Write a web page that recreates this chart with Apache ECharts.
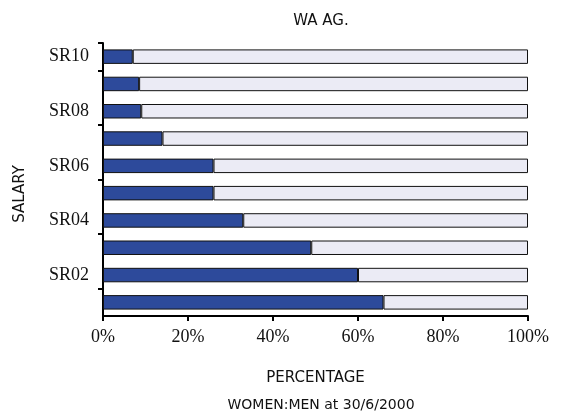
<!DOCTYPE html>
<html>
<head>
<meta charset="utf-8">
<script src="https://cdn.jsdelivr.net/npm/echarts@6/dist/echarts.min.js"></script>
<style>
  html, body { margin: 0; padding: 0; background: #fff; }
  #chart { width: 566px; height: 412px; }
</style>
</head>
<body>
<div id="chart"></div>
<script>
// salary ranges, bottom to top
var categories = ['SR01', 'SR02', 'SR03', 'SR04', 'SR05', 'SR06', 'SR07', 'SR08', 'SR09', 'SR10'];
// share of women in each range (%)
var women = [66, 60, 49, 33, 26, 26, 14, 9, 8.5, 7];
// share of men (%)
var men = [34, 40, 51, 67, 74, 74, 86, 91, 91.5, 93];
var xTicks = [0, 20, 40, 60, 80, 100];

var sans = '"DejaVu Sans", sans-serif';
var serif = '"Liberation Serif", serif';

var chart = echarts.init(document.getElementById('chart'), null, { renderer: 'canvas' });
chart.setOption({
  animation: false,
  backgroundColor: '#fff',
  title: [{
    text: 'WA AG.',
    left: 316,
    textAlign: 'center',
    top: 9,
    textStyle: { fontFamily: sans, fontSize: 15, fontWeight: 'normal', color: '#111' }
  }, {
    text: 'WOMEN:MEN at 30/6/2000',
    left: 316,
    textAlign: 'center',
    top: 393,
    textStyle: { fontFamily: sans, fontSize: 14, fontWeight: 'normal', color: '#111' }
  }],
  // y axis title sits a bit below the middle in the original
  graphic: [{
    type: 'text',
    x: 20,
    y: 194,
    rotation: Math.PI / 2,
    style: {
      text: 'SALARY',
      align: 'center',
      verticalAlign: 'middle',
      fontFamily: sans,
      fontSize: 15,
      fill: '#111'
    }
  }],
  grid: { left: 103, right: 38, top: 43, bottom: 96 },
  xAxis: {
    type: 'value',
    min: xTicks[0],
    max: xTicks[xTicks.length - 1],
    interval: 20,
    name: 'PERCENTAGE',
    nameLocation: 'middle',
    nameGap: 55,
    nameTextStyle: { fontFamily: sans, fontSize: 15, color: '#111' },
    axisLine: { show: true, lineStyle: { color: '#000', width: 2 } },
    axisTick: { show: true, length: 5, lineStyle: { color: '#000', width: 2 } },
    axisLabel: {
      formatter: '{value}%',
      margin: 12,
      fontFamily: serif,
      fontSize: 18,
      color: '#111'
    },
    splitLine: { show: false }
  },
  yAxis: {
    type: 'category',
    data: categories,
    axisLine: { show: true, lineStyle: { color: '#000', width: 2 } },
    axisTick: { show: true, length: 5, alignWithLabel: false, lineStyle: { color: '#000', width: 2 } },
    axisLabel: {
      interval: function (index) { return index % 2 === 1; },
      margin: 14,
      fontFamily: serif,
      fontSize: 18,
      color: '#111'
    }
  },
  series: [{
    name: 'Women',
    type: 'bar',
    stack: 'total',
    data: women,
    barWidth: '53%',
    itemStyle: { color: '#2d4a9b', borderColor: '#111', borderWidth: 1 }
  }, {
    name: 'Men',
    type: 'bar',
    stack: 'total',
    data: men,
    barWidth: '53%',
    itemStyle: { color: '#ebebf5', borderColor: '#111', borderWidth: 1 }
  }]
});
</script>
</body>
</html>
